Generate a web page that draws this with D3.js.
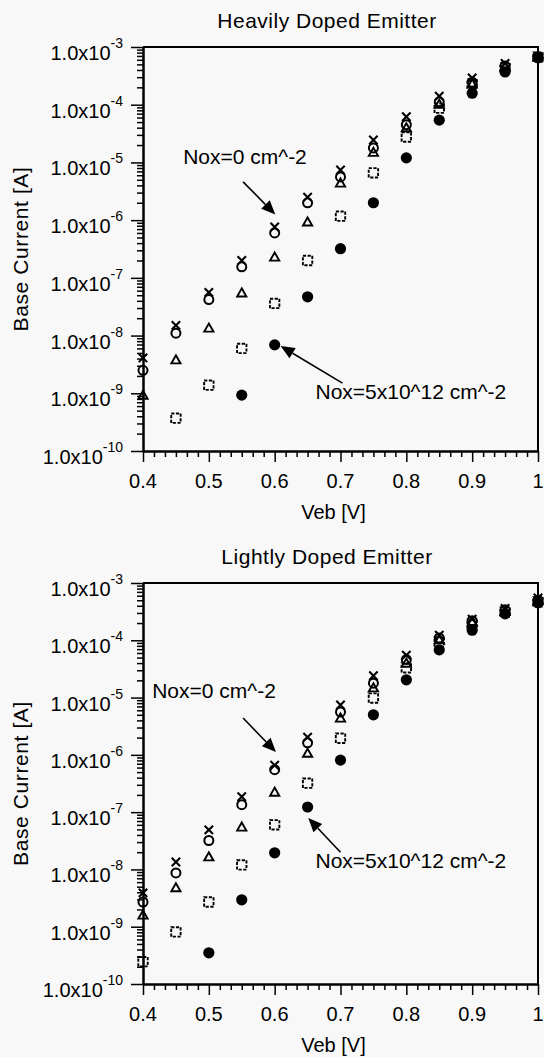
<!DOCTYPE html>
<html><head><meta charset="utf-8">
<script src="https://cdn.jsdelivr.net/npm/d3@7/dist/d3.min.js"></script>
<style>
html,body{margin:0;padding:0;background:#f8f8f8;}
svg{display:block;font-family:"Liberation Sans",Arial,sans-serif;}
</style></head><body>
<svg id="chart" width="544" height="1057"></svg>
<script>
// ---------- data ----------
const veb = [0.4,0.45,0.5,0.55,0.6,0.65,0.7,0.75,0.8,0.85,0.9,0.95,1.0];

// Heavily doped emitter (symbols: cross, open circle, open triangle, open square, filled circle)
const heavyCross    = [4.1e-9,1.5e-8,5.6e-8,2.0e-7,7.6e-7,2.5e-6,7.4e-6,2.45e-5,6.2e-5,1.41e-4,2.9e-4,5.2e-4,6.8e-4];
const heavyCircle   = [2.5e-9,1.1e-8,4.2e-8,1.55e-7,6.0e-7,2.0e-6,5.6e-6,1.78e-5,4.5e-5,1.12e-4,2.45e-4,4.7e-4,6.8e-4];
const heavyTriangle = [9.3e-10,3.8e-9,1.35e-8,5.5e-8,2.3e-7,9.3e-7,4.4e-6,1.5e-5,4.0e-5,1.02e-4,2.3e-4,4.5e-4,6.7e-4];
const heavySquare   = [null,3.7e-10,1.38e-9,6.0e-9,3.6e-8,2.0e-7,1.17e-6,6.6e-6,2.75e-5,8.7e-5,2.3e-4,4.4e-4,6.7e-4];
const heavyFilled   = [null,null,null,9.3e-10,6.9e-9,4.7e-8,3.2e-7,2.0e-6,1.2e-5,5.4e-5,1.58e-4,3.7e-4,6.5e-4];

// Lightly doped emitter
const lightCross    = [3.9e-9,1.35e-8,4.9e-8,1.86e-7,6.6e-7,2.04e-6,7.4e-6,2.4e-5,5.5e-5,1.23e-4,2.34e-4,3.6e-4,5.5e-4];
const lightCircle   = [2.7e-9,8.7e-9,3.2e-8,1.35e-7,5.5e-7,1.62e-6,5.6e-6,1.78e-5,4.6e-5,1.1e-4,2.2e-4,3.4e-4,5.0e-4];
const lightTriangle = [1.6e-9,4.8e-9,1.66e-8,5.5e-8,2.24e-7,1.07e-6,4.4e-6,1.48e-5,4.0e-5,1.02e-4,2.1e-4,3.2e-4,4.9e-4];
const lightSquare   = [2.45e-10,8.1e-10,2.7e-9,1.2e-8,6.0e-8,3.2e-7,1.95e-6,9.8e-6,3.3e-5,9.3e-5,1.9e-4,3.1e-4,4.7e-4];
const lightFilled   = [null,null,3.5e-10,2.95e-9,1.95e-8,1.23e-7,8.1e-7,5.0e-6,2.04e-5,6.8e-5,1.5e-4,2.9e-4,4.5e-4];

const seriesSymbols = ["filled","square","triangle","circle","cross"];
const panelTitles = ["Heavily Doped Emitter","Lightly Doped Emitter"];
const xTickValues = [0.4,0.5,0.6,0.7,0.8,0.9,1.0];
const xTickLabels = ["0.4","0.5","0.6","0.7","0.8","0.9","1"];
const yTickExponents = [-10,-9,-8,-7,-6,-5,-4,-3];
const yTickMantissa = "1.0x10";
const xTitle = "Veb [V]";
const yTitle = "Base Current [A]";

// annotations in data coordinates: text position, arrow start, arrow tip
const heavyNotes = [
  {text:"Nox=0 cm^-2", tx:0.461, ty:9.3e-6, ax:0.552, ay:4.6e-6, bx:0.601, by:1.25e-6},
  {text:"Nox=5x10^12 cm^-2", tx:0.662, ty:7.9e-10, ax:0.703, ay:1.5e-9, bx:0.609, by:6.6e-9}
];
const lightNotes = [
  {text:"Nox=0 cm^-2", tx:0.414, ty:9.8e-6, ax:0.552, ay:4.4e-6, bx:0.602, by:1.12e-6},
  {text:"Nox=5x10^12 cm^-2", tx:0.662, ty:1.07e-8, ax:0.700, ay:2.0e-8, bx:0.651, by:7.9e-8}
];

// ---------- drawing ----------
const svg = d3.select("#chart");
svg.append("rect").attr("width",544).attr("height",1057).attr("fill","#f8f8f8");

const panels = [
  {title:panelTitles[0], data:[heavyFilled,heavySquare,heavyTriangle,heavyCircle,heavyCross], notes:heavyNotes, top:47, bottom:451},
  {title:panelTitles[1], data:[lightFilled,lightSquare,lightTriangle,lightCircle,lightCross], notes:lightNotes, top:583, bottom:984}
];
const left = 143, right = 538;

function drawSymbol(g, kind, cx, cy){
  if(kind==="filled"){
    g.append("circle").attr("cx",cx).attr("cy",cy).attr("r",5.6).attr("fill","#000");
  } else if(kind==="square"){
    g.append("rect").attr("x",cx-4.7).attr("y",cy-4.7).attr("width",9.4).attr("height",9.4)
      .attr("fill","none").attr("stroke","#000").attr("stroke-width",1.9).attr("stroke-dasharray","3.2,1.5");
  } else if(kind==="triangle"){
    g.append("path").attr("transform",`translate(${cx},${cy})`)
      .attr("d","M0,-4.5L4.6,3.6L-4.6,3.6Z").attr("fill","none").attr("stroke","#000").attr("stroke-width",1.9);
  } else if(kind==="circle"){
    g.append("circle").attr("cx",cx).attr("cy",cy).attr("r",4.5)
      .attr("fill","none").attr("stroke","#000").attr("stroke-width",2);
  } else if(kind==="cross"){
    g.append("path").attr("transform",`translate(${cx},${cy})`)
      .attr("d","M-4.2,-4.2L4.2,4.2M-4.2,4.2L4.2,-4.2").attr("fill","none").attr("stroke","#000").attr("stroke-width",2.1);
  }
}

panels.forEach(p=>{
  const x = d3.scaleLinear().domain([0.4,1.0]).range([left,right]);
  const y = d3.scaleLog().domain([1e-10,1e-3]).range([p.bottom,p.top]);
  const g = svg.append("g");

  // frame (top and right)
  g.append("path").attr("d",`M${left},${p.top}H${right}V${p.bottom}`)
    .attr("fill","none").attr("stroke","#000").attr("stroke-width",2);

  // y axis: minor ticks
  const yMinor = [];
  yTickExponents.slice(0,-1).forEach(e=>{ for(let m=2;m<=9;m++) yMinor.push(m*Math.pow(10,e)); });
  const yMinorAxis = g.append("g").attr("transform",`translate(${left},0)`)
    .call(d3.axisLeft(y).tickValues(yMinor).tickSize(6).tickSizeOuter(0).tickFormat(""));
  const yMajorAxis = g.append("g").attr("transform",`translate(${left},0)`)
    .call(d3.axisLeft(y).tickValues(yTickExponents.map(e=>Math.pow(10,e))).tickSize(12).tickSizeOuter(0).tickFormat(""));
  // x axis: minor ticks (6 subdivisions)
  const xMinor = [];
  for(let i=0;i<=36;i++){ if(i%6!==0) xMinor.push(0.4 + i*0.1/6); }
  const xMinorAxis = g.append("g").attr("transform",`translate(0,${p.bottom})`)
    .call(d3.axisBottom(x).tickValues(xMinor).tickSize(6).tickSizeOuter(0).tickFormat(""));
  const xMajorAxis = g.append("g").attr("transform",`translate(0,${p.bottom})`)
    .call(d3.axisBottom(x).tickValues(xTickValues).tickSize(11).tickSizeOuter(0).tickFormat(""));
  [yMinorAxis,yMajorAxis,xMinorAxis,xMajorAxis].forEach(a=>{
    a.selectAll("path.domain").attr("stroke","#000").attr("stroke-width",2);
    a.selectAll(".tick line").attr("stroke","#000").attr("stroke-width",1.5);
  });

  // y tick labels with superscripts
  yTickExponents.forEach(e=>{
    const t = g.append("text").attr("x",123).attr("y",y(Math.pow(10,e))+13)
      .attr("text-anchor","end").attr("font-size",20).attr("fill","#000");
    t.append("tspan").text(yTickMantissa);
    t.append("tspan").attr("dy",-12).attr("font-size",14).text(String(e));
  });
  // x tick labels
  xTickValues.forEach((v,i)=>{
    g.append("text").attr("x",x(v)).attr("y",p.bottom+37).attr("text-anchor","middle")
      .attr("font-size",20).attr("fill","#000").text(xTickLabels[i]);
  });
  // axis titles
  g.append("text").attr("x",x(0.7)-7).attr("y",p.bottom+68).attr("text-anchor","middle")
    .attr("font-size",20).attr("fill","#000").text(xTitle);
  g.append("text").attr("transform",`translate(28,${(p.top+p.bottom)/2}) rotate(-90)`)
    .attr("text-anchor","middle").attr("font-size",21).attr("letter-spacing",0.6).attr("fill","#000").text(yTitle);
  // panel title
  g.append("text").attr("x",327).attr("y",p.top-19).attr("text-anchor","middle")
    .attr("font-size",21).attr("letter-spacing",0.5).attr("fill","#000").text(p.title);

  // markers
  p.data.forEach((arr,si)=>{
    const kind = seriesSymbols[si];
    const sg = g.append("g").attr("class","series-"+kind);
    arr.forEach((v,i)=>{ if(v!=null) drawSymbol(sg, kind, x(veb[i]), y(v)); });
  });

  // annotations
  p.notes.forEach(n=>{
    g.append("text").attr("x",x(n.tx)).attr("y",y(n.ty)).attr("font-size",21)
      .attr("fill","#000").text(n.text);
    const x1=x(n.ax), y1=y(n.ay), x2=x(n.bx), y2=y(n.by);
    const dx=x2-x1, dy=y2-y1, L=Math.hypot(dx,dy), ux=dx/L, uy=dy/L;
    const hl=14, hw=6;
    const bx=x2-ux*hl, by=y2-uy*hl;
    g.append("line").attr("x1",x1).attr("y1",y1).attr("x2",bx).attr("y2",by)
      .attr("stroke","#000").attr("stroke-width",1.6);
    g.append("path").attr("d",`M${x2},${y2}L${bx-uy*hw},${by+ux*hw}L${bx+uy*hw},${by-ux*hw}Z`).attr("fill","#000");
  });
});
</script>
</body></html>
